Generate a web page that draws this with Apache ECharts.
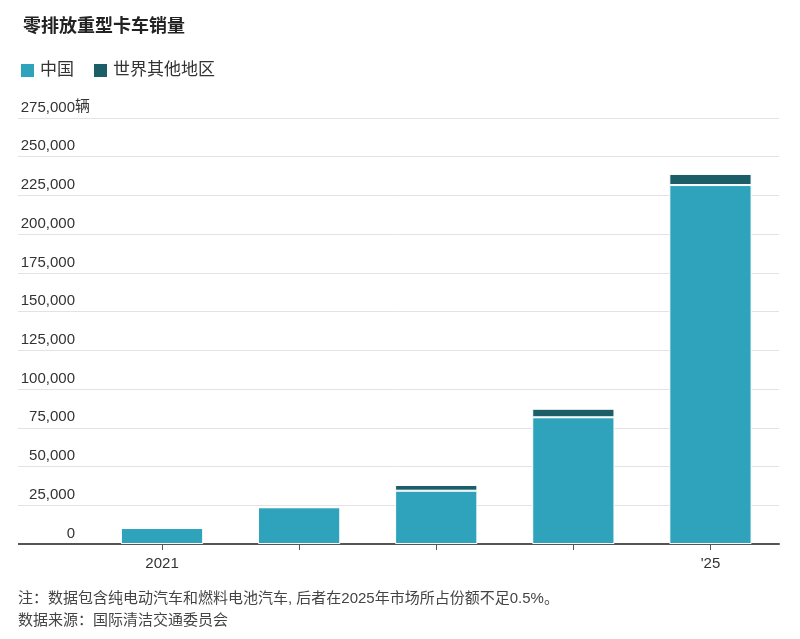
<!DOCTYPE html><html><head><meta charset="utf-8"><script src="https://cdn.jsdelivr.net/npm/echarts@6/dist/echarts.min.js"></script>
<style>body{margin:0}#c{width:800px;height:639px}</style></head><body><div id="c"></div><script>
const categories=['2021','2022','2023','2024',"'25"];
const china=[10300,23700,34400,81800,231700];
const other=[0,0,3700,5500,7200];
const ch=echarts.init(document.getElementById('c'));
const F='"Liberation Sans","Noto Sans CJK SC",sans-serif';
ch.setOption({animation:false,textStyle:{fontFamily:F},
title:{text:'零排放重型卡车销量',left:18,top:13,textStyle:{fontSize:18,fontWeight:'bold',color:'#222',fontFamily:F}},
legend:{left:14,top:57,itemWidth:15,itemHeight:15,itemGap:18,icon:'rect',textStyle:{fontSize:17,color:'#333'},data:['中国','世界其他地区']},
grid:[{left:18,right:21,top:118,bottom:95},{left:93.5,right:21,top:118,bottom:95}],
xAxis:[{gridIndex:0,type:'value',min:0,max:1,show:false},
{gridIndex:1,type:'category',data:categories,axisLine:{show:true,lineStyle:{color:'#555',width:2}},axisTick:{show:true,alignWithLabel:true,length:6,lineStyle:{color:'#555',width:1}},
axisLabel:{fontSize:15,color:'#333',margin:12,interval:0,formatter:(v,i)=>(i==0||i==4)?v:''}}],
yAxis:[{gridIndex:0,type:'value',min:0,max:275000,interval:25000,splitLine:{lineStyle:{color:'#e3e3e3'}},axisLine:{show:false},axisTick:{show:false},
axisLabel:{inside:true,align:'right',verticalAlign:'bottom',margin:57,fontSize:15,color:'#333',padding:[0,0,3,0],formatter:v=>v.toLocaleString('en-US')}},
{gridIndex:1,type:'value',min:0,max:275000,interval:25000,show:false}],
series:[{name:'中国',type:'bar',stack:'s',xAxisIndex:1,yAxisIndex:1,data:china,barWidth:'60%',itemStyle:{color:'#2fa3bb',borderColor:'#fff',borderWidth:1}},
{name:'世界其他地区',type:'bar',stack:'s',xAxisIndex:1,yAxisIndex:1,data:other,itemStyle:{color:'#1b5e68',borderColor:'#fff',borderWidth:1}},
{type:'line',xAxisIndex:0,yAxisIndex:0,data:[[0,0],[1,0]],symbol:'none',lineStyle:{color:'#555',width:2},silent:true,z:1}],
graphic:[{type:'text',left:75,top:99,style:{text:'辆',fontSize:15,fill:'#333',fontFamily:F}},
{type:'text',left:18,top:588,style:{text:'注：数据包含纯电动汽车和燃料电池汽车, 后者在2025年市场所占份额不足0.5%。\n数据来源：国际清洁交通委员会',fontSize:15,lineHeight:22,fill:'#444',fontFamily:F}}]
});
</script></body></html>
